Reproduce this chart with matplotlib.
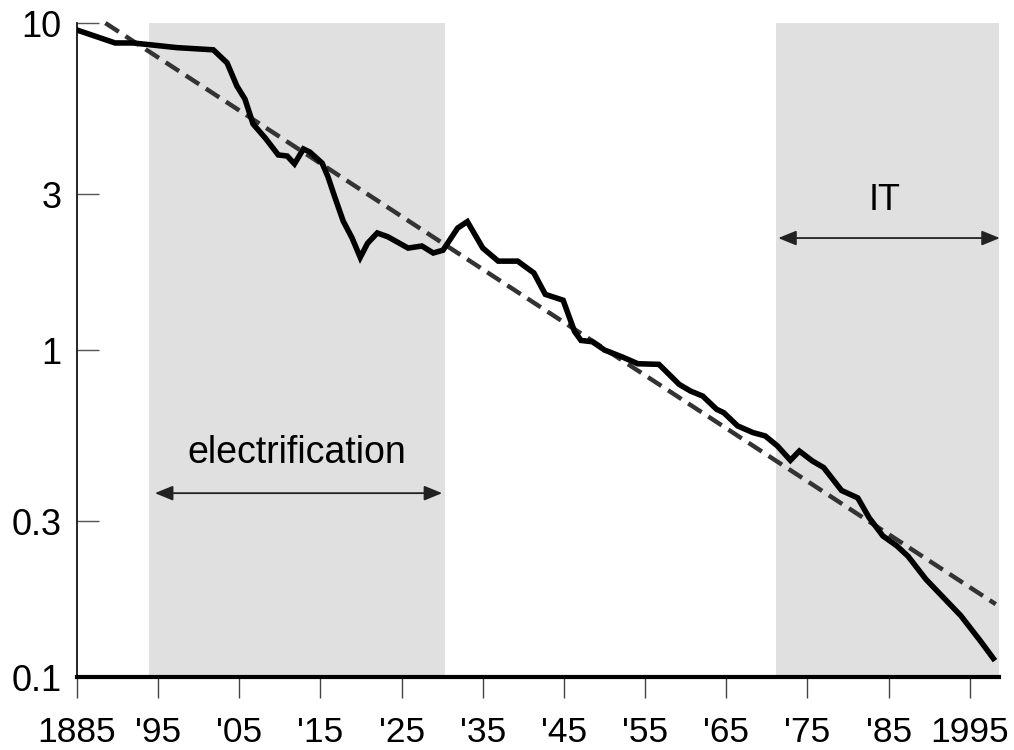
import matplotlib
matplotlib.use("Agg")
import matplotlib.pyplot as plt

plt.rcParams['font.family'] = ['Liberation Sans', 'DejaVu Sans']

# series (year, value) - log scale
years = [1885.0, 1889.7, 1891.9, 1894.4, 1897.3, 1901.8, 1903.5, 1904.7, 1905.7, 1906.7,
         1908.2, 1909.8, 1910.9, 1911.8, 1912.9, 1913.7, 1915.2, 1915.9, 1916.8, 1917.8,
         1918.9, 1919.9, 1920.8, 1922.0, 1923.3, 1925.8, 1927.5, 1928.9, 1930.1, 1931.9,
         1933.1, 1935.0, 1936.9, 1939.3, 1941.3, 1942.7, 1944.9, 1946.3, 1947.1, 1948.5,
         1950.0, 1952.2, 1954.1, 1956.7, 1959.2, 1960.6, 1962.1, 1963.8, 1964.7, 1966.4,
         1968.3, 1969.8, 1971.3, 1972.9, 1974.0, 1975.6, 1977.0, 1979.2, 1981.2, 1982.6,
         1984.3, 1986.0, 1987.4, 1989.6, 1993.9, 1996.3, 1997.9]
values = [9.52, 8.69, 8.69, 8.56, 8.41, 8.28, 7.55, 6.42, 5.85, 4.91,
          4.45, 3.95, 3.92, 3.71, 4.12, 4.03, 3.73, 3.40, 2.92, 2.48,
          2.20, 1.92, 2.12, 2.28, 2.22, 2.05, 2.08, 1.98, 2.02, 2.36,
          2.47, 2.05, 1.87, 1.87, 1.72, 1.48, 1.42, 1.14, 1.07, 1.06,
          1.00, 0.952, 0.908, 0.904, 0.785, 0.749, 0.723, 0.659, 0.643, 0.586,
          0.559, 0.546, 0.509, 0.460, 0.491, 0.458, 0.437, 0.372, 0.353, 0.307,
          0.270, 0.252, 0.234, 0.199, 0.154, 0.129, 0.114]

# fitted trend endpoints
trend_years = [1888.5, 1998.2]
trend_values = [10.0, 0.167]

# shaded periods
periods = [(1893.9, 1930.4), (1971.1, 1998.6)]

xticks = [1885, 1895, 1905, 1915, 1925, 1935, 1945, 1955, 1965, 1975, 1985, 1995]
xlabels = ['1885', "'95", "'05", "'15", "'25", "'35", "'45", "'55", "'65", "'75", "'85", '1995']
yticks = [0.1, 0.3, 1, 3, 10]
ylabels = ['0.1', '0.3', '1', '3', '10']

fig = plt.figure(figsize=(10.14, 7.5), dpi=100)
ax = fig.add_axes([0.0759, 0.0973, 0.9093, 0.872])

for a, b in periods:
    ax.axvspan(a, b, color='#e0e0e0', lw=0, zorder=0)

ax.plot(trend_years, trend_values, color='#333333', lw=3.2, dashes=(3.6, 1.8),
        zorder=2, clip_on=False)
ax.plot(years, values, color='black', lw=4, solid_joinstyle='miter', zorder=3)

ax.set_yscale('log')
ax.set_xlim(1885, 1998.6)
ax.set_ylim(0.1, 10)
ax.yaxis.set_minor_locator(matplotlib.ticker.NullLocator())
ax.set_yticks(yticks)
ax.set_yticklabels(ylabels)
ax.set_xticks(xticks)
ax.set_xticklabels(xlabels)

ax.tick_params(axis='y', direction='in', length=16, width=1, color='#555555',
               labelsize=26, pad=11)
ax.tick_params(axis='x', direction='out', length=15, width=1, color='#444444',
               labelsize=25.5, pad=13)

for s in ['top', 'right']:
    ax.spines[s].set_visible(False)
ax.spines['left'].set_linewidth(1.2)
ax.spines['bottom'].set_linewidth(3)
ax.spines['bottom'].set_zorder(4)

arrow = dict(arrowstyle='<|-|>,head_length=1.1,head_width=0.45', color='#222222',
             lw=1.3, mutation_scale=10, shrinkA=0, shrinkB=0)
ax.annotate('', xy=(1894.6, 0.365), xytext=(1930.0, 0.365), arrowprops=arrow)
ax.text(1912.1, 0.484, 'electrification', fontsize=27, ha='center', va='center')
ax.annotate('', xy=(1971.4, 2.20), xytext=(1998.7, 2.20), arrowprops=arrow,
            annotation_clip=False)
ax.text(1984.5, 2.86, 'IT', fontsize=26, ha='center', va='center')

fig.savefig('out.png', dpi=100)
